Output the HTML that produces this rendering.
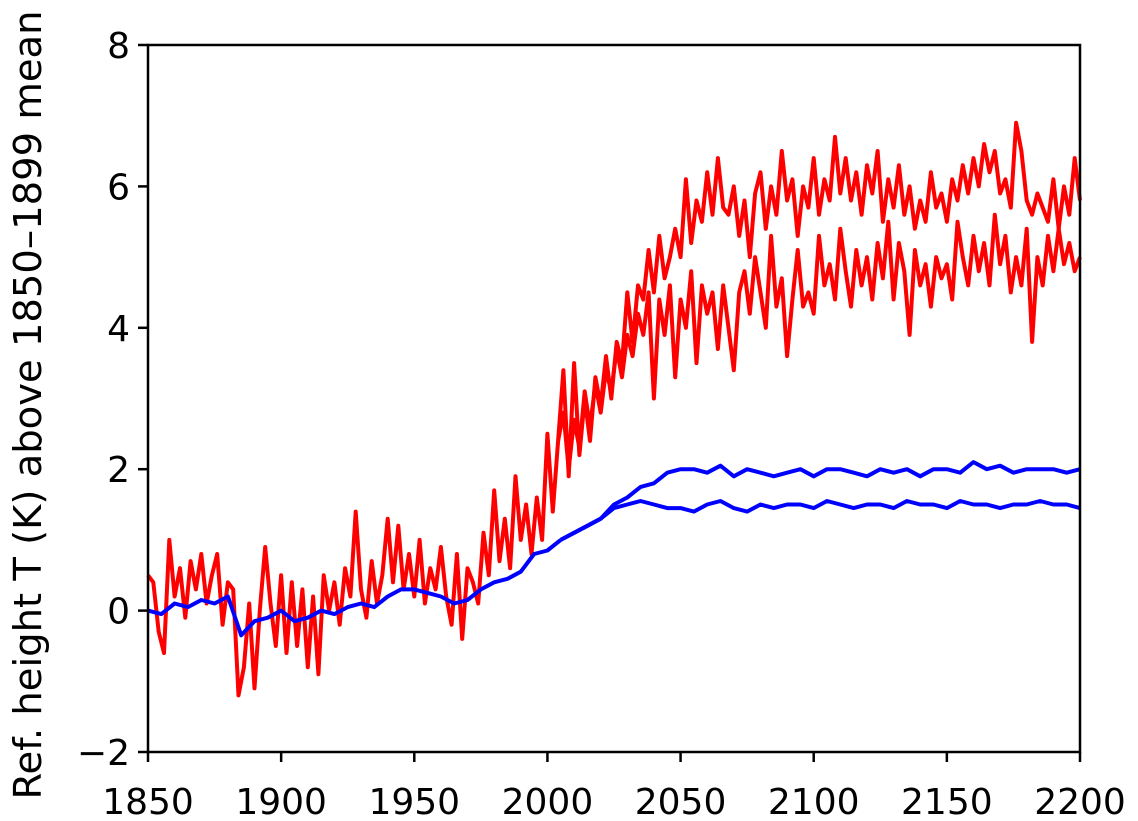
<!DOCTYPE html>
<html><head><meta charset="utf-8"><style>
html,body{margin:0;padding:0;background:#fff;}
svg{display:block;font-family:"DejaVu Sans","Liberation Sans",sans-serif;}
</style></head><body>
<svg id="chart" width="1138" height="821">
<g id="lines"></g>
<rect x="148" y="45" width="932" height="707" fill="none" stroke="#000" stroke-width="2.5"/>
<g id="ticks"></g>
<text x="0" y="0" transform="translate(41,405) rotate(-90)" text-anchor="middle" font-size="38.5">Ref. height T (K) above 1850–1899 mean</text>
</svg>
<script>
const xTicks=[1850,1900,1950,2000,2050,2100,2150,2200];
const yTicks=[-2,0,2,4,6,8];
const histRed=[0.5,0.4,-0.3,-0.6,1.0,0.2,0.6,-0.1,0.7,0.3,0.8,0.1,0.5,0.8,-0.2,0.4,0.3,-1.2,-0.8,0.1,-1.1,0.0,0.9,0.1,-0.5,0.5,-0.6,0.4,-0.5,0.3,-0.8,0.2,-0.9,0.5,0.0,0.4,-0.2,0.6,0.2,1.4,0.3,-0.1,0.7,0.1,0.5,1.3,0.4,1.2,0.3,0.8,0.2,1.0,0.1,0.6,0.3,0.9,0.2,-0.2,0.8,-0.4,0.6,0.4,0.1,1.1,0.5,1.7,0.7,1.3,0.6,1.9,1.0,1.5,0.8,1.6,1.0,2.5,1.4,2.4];
const redA=[3.4,1.9,3.5,2.2,3.0,2.4,3.3,2.9,3.6,3.0,3.8,3.5,4.5,3.8,4.6,4.4,5.1,4.5,5.3,4.7,5.0,5.4,5.0,6.1,5.2,5.8,5.5,6.2,5.6,6.4,5.7,5.6,6.0,5.3,5.8,5.0,5.9,6.2,5.4,6.0,5.6,6.5,5.8,6.1,5.3,6.0,5.7,6.4,5.6,6.1,5.8,6.7,5.9,6.4,5.8,6.2,5.6,6.3,5.9,6.5,5.5,6.1,5.7,6.3,5.6,6.0,5.4,5.8,5.5,6.2,5.7,5.9,5.5,6.1,5.8,6.3,5.9,6.4,6.0,6.6,6.2,6.5,5.9,6.1,5.7,6.9,6.5,5.8,5.6,5.9,5.7,5.5,6.1,5.4,6.0,5.6,6.4,5.8];
const redB=[2.8,2.0,2.7,2.3,3.1,2.6,3.2,2.8,3.4,3.1,3.7,3.3,3.9,3.6,4.2,3.9,4.5,3.0,4.4,3.9,4.6,3.3,4.4,4.0,4.8,3.5,4.6,4.2,4.5,3.7,4.6,4.0,3.4,4.5,4.8,4.2,5.0,4.5,4.0,5.3,4.3,4.7,3.6,4.4,5.1,4.3,4.5,4.2,5.3,4.6,4.9,4.4,5.4,4.8,4.3,5.1,4.6,5.0,4.4,5.2,4.7,5.5,4.4,5.2,4.8,3.9,5.1,4.6,4.9,4.3,5.0,4.7,4.9,4.4,5.5,5.0,4.6,5.3,4.8,5.2,4.6,5.6,4.9,5.3,4.5,5.0,4.6,5.4,3.8,5.0,4.6,5.3,4.8,5.4,4.9,5.2,4.8,5.0];
const histBlue=[0.0,-0.05,0.1,0.05,0.15,0.1,0.2,-0.35,-0.15,-0.1,0.0,-0.15,-0.1,0.0,-0.05,0.05,0.1,0.05,0.2,0.3,0.3,0.25,0.2,0.1,0.15,0.3,0.4,0.45,0.55,0.8,0.85,1.0];
const blueA=[1.0,1.1,1.2,1.3,1.5,1.6,1.75,1.8,1.95,2.0,2.0,1.95,2.05,1.9,2.0,1.95,1.9,1.95,2.0,1.9,2.0,2.0,1.95,1.9,2.0,1.95,2.0,1.9,2.0,2.0,1.95,2.1,2.0,2.05,1.95,2.0,2.0,2.0,1.95,2.0];
const blueB=[1.0,1.1,1.2,1.3,1.45,1.5,1.55,1.5,1.45,1.45,1.4,1.5,1.55,1.45,1.4,1.5,1.45,1.5,1.5,1.45,1.55,1.5,1.45,1.5,1.5,1.45,1.55,1.5,1.5,1.45,1.55,1.5,1.5,1.45,1.5,1.5,1.55,1.5,1.5,1.45];

const X=y=>148+(y-1850)*932/350;
const Y=v=>752-(v+2)*70.7;
const NS='http://www.w3.org/2000/svg';
const lines=document.getElementById('lines');
function series(vals,start,step,color,name,prefix){
  let pts=prefix?[prefix]:[];
  vals.forEach((v,i)=>pts.push([start+i*step,v]));
  const p=document.createElementNS(NS,'polyline');
  p.setAttribute('points',pts.map(q=>X(q[0]).toFixed(1)+','+Y(q[1]).toFixed(1)).join(' '));
  p.setAttribute('fill','none');p.setAttribute('stroke',color);
  p.setAttribute('stroke-width','4');p.setAttribute('stroke-linejoin','round');
  
  
  lines.appendChild(p);
}
const lastRed=[1850+(histRed.length-1)*2,histRed[histRed.length-1]];
series(histRed,1850,2,'#ff0000','red-historical');
series(redA,2006,2,'#ff0000','red-scenario-high',lastRed);
series(redB,2006,2,'#ff0000','red-scenario-low',lastRed);
series(histBlue,1850,5,'#0000ff','blue-historical');
series(blueA,2005,5,'#0000ff','blue-scenario-high');
series(blueB,2005,5,'#0000ff','blue-scenario-low');

const tg=document.getElementById('ticks');
xTicks.forEach(t=>{
  const l=document.createElementNS(NS,'line');
  l.setAttribute('x1',X(t));l.setAttribute('x2',X(t));l.setAttribute('y1',752);l.setAttribute('y2',762);
  l.setAttribute('stroke','#000');l.setAttribute('stroke-width','2.5');
  
  
  tg.appendChild(l);
  const s=document.createElementNS(NS,'text');
  s.setAttribute('x',X(t));s.setAttribute('y',814);s.setAttribute('text-anchor','middle');s.setAttribute('font-size','36');
  s.textContent=t;
  
  
  tg.appendChild(s);
});
yTicks.forEach(t=>{
  const l=document.createElementNS(NS,'line');
  l.setAttribute('x1',138);l.setAttribute('x2',148);l.setAttribute('y1',Y(t));l.setAttribute('y2',Y(t));
  l.setAttribute('stroke','#000');l.setAttribute('stroke-width','2.5');
  
  
  tg.appendChild(l);
  const s=document.createElementNS(NS,'text');
  s.setAttribute('x',130);s.setAttribute('y',Y(t)+13);s.setAttribute('text-anchor','end');s.setAttribute('font-size','36');
  s.textContent=t<0?'\u2212'+Math.abs(t):String(t);
  
  
  tg.appendChild(s);
});
</script>
</body></html>
